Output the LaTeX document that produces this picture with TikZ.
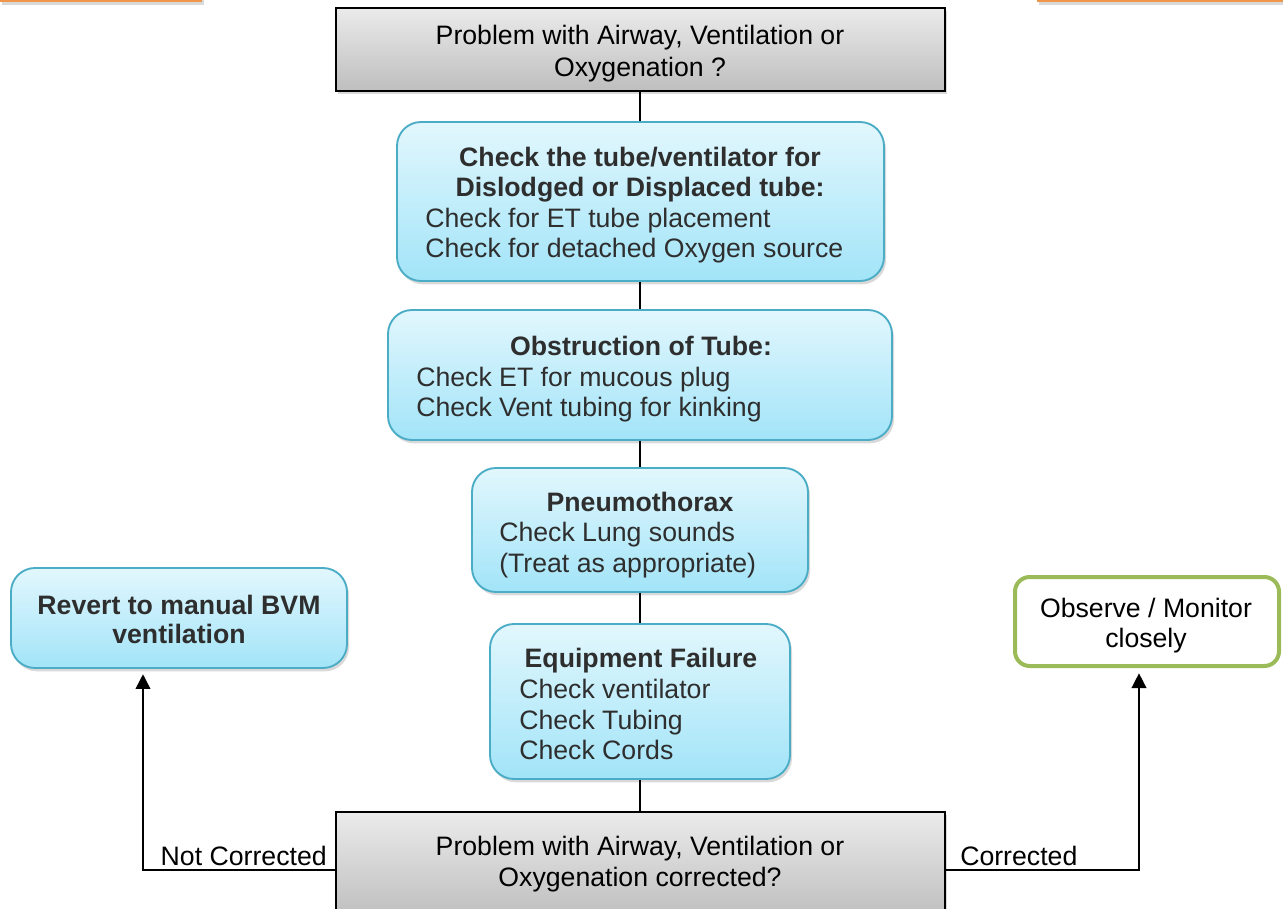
\documentclass[tikz,border=0pt]{standalone}
\usepackage{fontspec}
\setmainfont{Liberation Sans}
\usetikzlibrary{arrows.meta,shadows,fit}
\definecolor{cyanTop}{HTML}{E2F7FD}
\definecolor{cyanBot}{HTML}{A2E4F8}
\definecolor{cyanLine}{HTML}{4BACC6}
\definecolor{txtGray}{HTML}{2E2E2E}
\definecolor{grayTop}{HTML}{EBEBEB}
\definecolor{grayBot}{HTML}{BEBEBE}
\definecolor{greenLine}{HTML}{9BBB59}
\definecolor{orangeBar}{HTML}{F0964A}
\begin{document}
\begin{tikzpicture}[x=0.75pt,y=-0.75pt,
  shd/.style={drop shadow={opacity=0.3,shadow xshift=1.5pt,shadow yshift=-2.5pt}},
  graybox/.style={draw=black,line width=1.5pt,top color=grayTop,bottom color=grayBot,shd,inner sep=0pt},
  cyanbox/.style={draw=cyanLine,line width=1.4pt,rounded corners=18pt,top color=cyanTop,bottom color=cyanBot,shd,inner sep=0pt},
  greenbox/.style={draw=greenLine,line width=3pt,rounded corners=11pt,fill=white,inner sep=0pt},
  txt/.style={inner sep=0pt,text height=14.3pt,text depth=0pt,font=\fontsize{20}{23}\selectfont},
  ctxt/.style={txt,text=txtGray},
  btxt/.style={txt,text=txtGray,font=\fontsize{20}{23}\selectfont\bfseries},
  conn/.style={draw=black,line width=1.1pt},
  arr/.style={conn,-{Triangle[width=11pt,length=11pt]},shorten >=4pt}
]
\useasboundingbox (0,0) rectangle (1283,909);

% orange bars (cut-off boxes)
\fill[orangeBar,shd] (0,-10) rectangle (202,2);
\fill[orangeBar,shd] (1037,-10) rectangle (1283,2);

% boxes
\node[graybox,fit={(336,8) (945,91)}] (top) {};
\node[cyanbox,fit={(397,122) (884,281)}] (b1) {};
\node[cyanbox,fit={(388,310) (892,440)}] (b2) {};
\node[cyanbox,fit={(472,468) (808,592)}] (b3) {};
\node[cyanbox,fit={(490,624) (790,779)}] (b4) {};
\node[graybox,fit={(336,812) (945,918)}] (bot) {};
\node[cyanbox,fit={(11,568) (347,668)}] (left) {};
\node[greenbox,fit={(1015,577) (1279,666)}] (right) {};

% texts
\node[txt] (t1) at (640,35) {Problem with Airway, Ventilation or};
\node[txt] (t2) at (640,67) {Oxygenation ?};

\node[btxt] (b1a) at (640,156.5) {Check the tube/ventilator for};
\node[btxt] (b1b) at (640,187) {Dislodged or Displaced tube:};
\node[ctxt,anchor=west] (b1c) at (425,217.5) {Check for ET tube placement};
\node[ctxt,anchor=west] (b1d) at (425,247.5) {Check for detached Oxygen source};

\node[btxt] (b2a) at (641,346) {Obstruction of Tube:};
\node[ctxt,anchor=west] (b2b) at (416,377) {Check ET for mucous plug};
\node[ctxt,anchor=west] (b2c) at (416,407) {Check Vent tubing for kinking};

\node[btxt] (b3a) at (640,502) {Pneumothorax};
\node[ctxt,anchor=west] (b3b) at (499,532) {Check Lung sounds};
\node[ctxt,anchor=west] (b3c) at (499,563) {(Treat as appropriate)};

\node[btxt] (b4a) at (641,657.5) {Equipment Failure};
\node[ctxt,anchor=west] (b4b) at (519,689) {Check ventilator};
\node[ctxt,anchor=west] (b4c) at (519,719.5) {Check Tubing};
\node[ctxt,anchor=west] (b4d) at (519,750) {Check Cords};

\node[txt] (bt1) at (640,846) {Problem with Airway, Ventilation or};
\node[txt] (bt2) at (640,877) {Oxygenation corrected?};

\node[btxt] (la) at (179,605) {Revert to manual BVM};
\node[btxt] (lb) at (179,634) {ventilation};

\node[txt] (ra) at (1146,608) {Observe / Monitor};
\node[txt] (rb) at (1146,638) {closely};

\node[txt,anchor=east] (nc) at (327,856) {Not Corrected};
\node[txt,anchor=west] (cc) at (960,856) {Corrected};

% connectors
\draw[conn] (top.south -| 640,0) -- (b1.north -| 640,0);
\draw[conn] (b1.south -| 640,0) -- (b2.north -| 640,0);
\draw[conn] (b2.south -| 640,0) -- (b3.north -| 640,0);
\draw[conn] (b3.south -| 640,0) -- (b4.north -| 640,0);
\draw[conn] (b4.south -| 640,0) -- (bot.north -| 640,0);

\coordinate (nlc) at (143,870);
\coordinate (ncc) at (1139,870);
\draw[arr] (bot.west |- nlc) -- (nlc) -- (nlc |- left.south);
\draw[arr] (bot.east |- ncc) -- (ncc) -- (ncc |- right.south);
\end{tikzpicture}
\end{document}
